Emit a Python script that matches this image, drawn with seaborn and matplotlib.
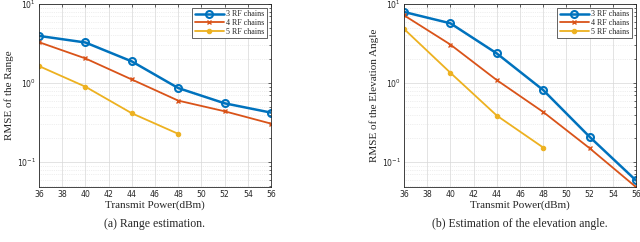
import matplotlib
matplotlib.use("Agg")
import matplotlib.pyplot as plt
import matplotlib.ticker as mticker
import pandas as pd
import seaborn as sns

power = [36, 40, 44, 48, 52, 56]

range_3rf = [3.95, 3.26, 1.88, 0.865, 0.555, 0.423]
range_4rf = [3.29, 2.05, 1.11, 0.60, 0.44, 0.307]
range_5rf = [1.64, 0.90, 0.415, 0.228]

elev_3rf = [7.93, 5.70, 2.37, 0.816, 0.209, 0.0587]
elev_4rf = [7.2, 3.07, 1.09, 0.431, 0.150, 0.0484]
elev_5rf = [4.84, 1.35, 0.388, 0.153]

series_names = ["3 RF chains", "4 RF chains", "5 RF chains"]
colors = ["#0072BD", "#D95319", "#EDB120"]


def make_df(vals3, vals4, vals5):
    rows = []
    for name, vals in zip(series_names, [vals3, vals4, vals5]):
        for p, v in zip(power, vals):
            rows.append({"power": p, "rmse": v, "series": name})
    return pd.DataFrame(rows)


sns.set_theme(style="white")
plt.rcParams["font.family"] = ["DejaVu Sans"]
plt.rcParams["mathtext.fontset"] = "dejavusans"

fig = plt.figure(figsize=(6.4, 2.42), dpi=100)
ax_a = fig.add_axes([39 / 640, 1 - 187 / 242, 232 / 640, 183 / 242])
ax_b = fig.add_axes([404 / 640, 1 - 187 / 242, 232 / 640, 183 / 242])

panels = [
    (ax_a, make_df(range_3rf, range_4rf, range_5rf), "RMSE of the Range", "(a) Range estimation."),
    (ax_b, make_df(elev_3rf, elev_4rf, elev_5rf), "RMSE of the Elevation Angle",
     "(b) Estimation of the elevation angle."),
]

serif = "Liberation Serif"
styles = {
    "3 RF chains": dict(marker="o", markersize=5, markerfacecolor="none", markeredgewidth=1.5, linewidth=1.8),
    "4 RF chains": dict(marker="x", markersize=3.5, markeredgewidth=1.0, linewidth=1.3),
    "5 RF chains": dict(marker="o", markersize=3.2, linewidth=1.3),
}

for ax, df, ylabel, caption in panels:
    for name, color in zip(series_names, colors):
        sub = df[df["series"] == name]
        sns.lineplot(data=sub, x="power", y="rmse", color=color, ax=ax, label=name,
                     markeredgecolor=color, **styles[name])
    ax.set_yscale("log")
    ax.set_xlim(36, 56)
    ax.set_ylim(0.0485, 10)
    ax.set_xticks(range(36, 57, 2))
    ax.yaxis.set_major_locator(mticker.LogLocator(base=10, numticks=10))
    ax.yaxis.set_minor_locator(mticker.LogLocator(base=10, subs=range(2, 10), numticks=10))
    ax.yaxis.set_minor_formatter(mticker.NullFormatter())
    ax.grid(True, which="major", color="#d8d8d8", linewidth=0.5)
    ax.grid(True, which="minor", axis="y", color="#e0e0e0", linewidth=0.5, linestyle=":")
    ax.tick_params(axis="both", which="both", direction="in", top=True, right=True,
                   labelsize=5.6, length=2.5, width=0.5, pad=2, colors="#262626")
    ax.tick_params(axis="y", which="minor", length=1.5)
    for s in ax.spines.values():
        s.set_color("#262626")
        s.set_linewidth(0.6)
    ax.set_xlabel("Transmit Power(dBm)", fontsize=8, family=serif, labelpad=1)
    ax.set_ylabel(ylabel, fontsize=8, family=serif, labelpad=2)
    leg = ax.legend(loc="upper right", prop={"family": serif, "size": 5.8},
                    frameon=True, fancybox=False, edgecolor="#262626", framealpha=1,
                    handlelength=3.6, borderpad=0.3, labelspacing=0.1, handletextpad=0.3,
                    borderaxespad=0.5)
    leg.get_frame().set_linewidth(0.5)
    bbox = ax.get_position()
    fig.text((bbox.x0 + bbox.x1) / 2, 1 - 224 / 242, caption, ha="center", va="center",
             fontsize=8.5, family=serif)

fig.savefig("out.png", dpi=100)
